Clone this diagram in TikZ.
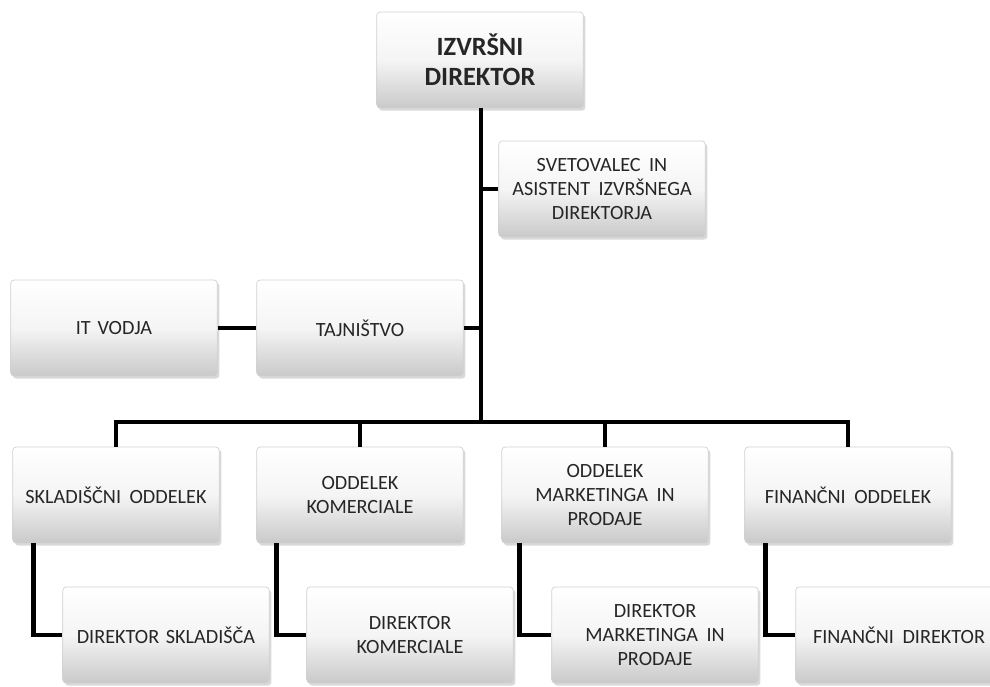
\documentclass[tikz,border=0pt]{standalone}
\usepackage{fontspec}
\setmainfont{Carlito}
\usepackage{tikz}
\usetikzlibrary{shadows}

\newcommand{\wsp}{\hspace{0.42em}}

\tikzset{
  box/.style={rectangle, rounded corners=2pt, draw=gray!35, line width=0.4pt,
    top color=white, bottom color=gray!42, middle color=gray!8,
    drop shadow={shadow xshift=1.2pt, shadow yshift=-1.5pt, opacity=0.3, fill=gray},
    minimum width=4.08cm, minimum height=1.92cm, text width=3.9cm, align=center,
    text=black!85, font=\fontsize{11.5}{13.5}\selectfont},
  link/.style={line width=2.5pt, black}
}

\begin{document}
\begin{tikzpicture}[x=0.02cm, y=-0.02cm]
    \useasboundingbox (0,0) rectangle (990,686);
    \clip (0,0) rectangle (990,686);
    \node[box, font=\fontsize{15}{17}\bfseries\selectfont] (dir) at (480,60) {IZVRŠNI\\DIREKTOR};
    \node[box] (svet) at (602,189) {SVETOVALEC\wsp IN\\ASISTENT\wsp IZVRŠNEGA\\DIREKTORJA};
    \node[box] (it) at (114,328) {IT VODJA};
    \node[box] (taj) at (360,328) {TAJNIŠTVO};
    \node[box] (skl) at (116,495) {SKLADIŠČNI\wsp ODDELEK};
    \node[box] (kom) at (360,495) {ODDELEK\\KOMERCIALE};
    \node[box] (mark) at (605,495) {ODDELEK\\MARKETINGA\wsp IN\\PRODAJE};
    \node[box] (fin) at (848,495) {FINANČNI\wsp ODDELEK};
    \node[box] (ds) at (166,635) {DIREKTOR SKLADIŠČA};
    \node[box] (dk) at (410,635) {DIREKTOR\\KOMERCIALE};
    \node[box] (dm) at (655,635) {DIREKTOR\\MARKETINGA\wsp IN\\PRODAJE};
    \node[box] (fd) at (899,635) {FINANČNI\wsp DIREKTOR};
    \coordinate (bus) at (481,422);
    \draw[link] (dir.south -| bus) -- (bus);
    \draw[link] (svet.west) -- (svet.west -| bus);
    \draw[link] (taj.east) -- (taj.east -| bus);
    \draw[link] (it.east) -- (taj.west);
    \draw[link] (skl.north) |- (bus) -| (fin.north);
    \draw[link] (kom.north) -- (kom.north |- bus);
    \draw[link] (mark.north) -- (mark.north |- bus);
    \draw[link] ([xshift=0.42cm]skl.south west) |- (ds.west);
    \draw[link] ([xshift=0.4cm]kom.south west) |- (dk.west);
    \draw[link] ([xshift=0.36cm]mark.south west) |- (dm.west);
    \draw[link] ([xshift=0.42cm]fin.south west) |- (fd.west);
\end{tikzpicture}
\end{document}
